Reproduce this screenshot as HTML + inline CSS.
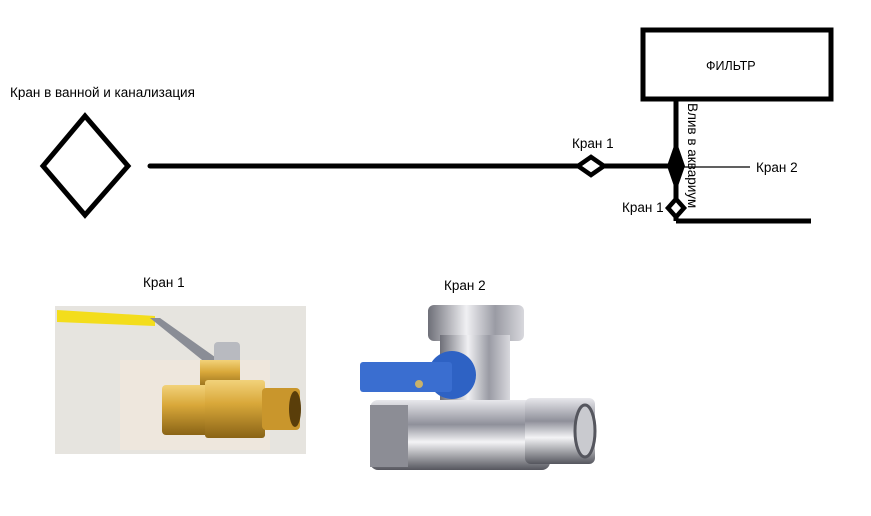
<!DOCTYPE html>
<html><head><meta charset="utf-8"><style>
html,body{margin:0;padding:0;background:#fff;}
body{width:871px;height:516px;overflow:hidden;position:relative;font-family:"Liberation Sans","DejaVu Sans",sans-serif;}
</style></head><body>
<svg width="871" height="516" viewBox="0 0 871 516" xmlns="http://www.w3.org/2000/svg" style="position:absolute;left:0;top:0">
<defs>
<linearGradient id="brass" x1="0" y1="0" x2="0" y2="1">
<stop offset="0" stop-color="#f2d27a"/><stop offset="0.4" stop-color="#d9a83a"/><stop offset="1" stop-color="#8a6416"/></linearGradient>
<linearGradient id="chrome" x1="0" y1="0" x2="0" y2="1">
<stop offset="0" stop-color="#e8e8ec"/><stop offset="0.35" stop-color="#8f909a"/><stop offset="0.6" stop-color="#f4f4f6"/><stop offset="1" stop-color="#55565e"/></linearGradient>
<linearGradient id="chromeV" x1="0" y1="0" x2="1" y2="0">
<stop offset="0" stop-color="#6e6f78"/><stop offset="0.4" stop-color="#f0f0f3"/><stop offset="0.7" stop-color="#9a9ba4"/><stop offset="1" stop-color="#d8d8dd"/></linearGradient>
</defs>
<g font-size="13.5" fill="#000">
<text x="10" y="97">Кран в ванной и канализация</text>
<text x="572" y="148">Кран 1</text>
<text x="756" y="172">Кран 2</text>
<text x="622" y="212">Кран 1</text>
<text x="706" y="70" font-size="12.5">ФИЛЬТР</text>
<text x="0" y="0" transform="translate(688,103) rotate(90)">Влив в аквариум</text>
<text x="143" y="287">Кран 1</text>
<text x="444" y="290">Кран 2</text>
</g>
<rect x="643" y="30" width="188" height="69" fill="none" stroke="#000" stroke-width="5"/>
<polygon points="85,116 128,166 85,215 43,166" fill="none" stroke="#000" stroke-width="5"/>
<line x1="150" y1="166" x2="676" y2="166" stroke="#000" stroke-width="5" stroke-linecap="round"/>
<line x1="676" y1="101" x2="676" y2="221" stroke="#000" stroke-width="5"/>
<line x1="676" y1="221" x2="811" y2="221" stroke="#000" stroke-width="5"/>
<line x1="676" y1="167" x2="750" y2="167" stroke="#000" stroke-width="1.2"/>
<polygon points="591,157 604,166 591,175 578,166" fill="#fff" stroke="#000" stroke-width="4.5"/>
<polygon points="676,140 685,166 676,192 667,166" fill="#000"/>
<polygon points="676,199 684,208 676,217 668,208" fill="#fff" stroke="#000" stroke-width="4.5"/>
<!-- photo 1 -->
<rect x="55" y="306" width="251" height="148" fill="#e6e4df"/>
<rect x="120" y="360" width="150" height="90" fill="#f1e8dc" opacity="0.7"/>
<polygon points="57,310 155,316 155,326 57,322" fill="#f3dd1c"/>
<polygon points="150,318 160,318 222,362 212,368" fill="#8a8d96"/>
<rect x="214" y="342" width="26" height="22" rx="4" fill="#b8bac0"/>
<rect x="200" y="360" width="40" height="30" fill="url(#brass)"/>
<rect x="162" y="385" width="50" height="50" rx="4" fill="url(#brass)"/>
<rect x="205" y="380" width="60" height="58" rx="3" fill="url(#brass)"/>
<rect x="262" y="388" width="38" height="42" rx="4" fill="#c9962c"/>
<ellipse cx="295" cy="409" rx="6" ry="18" fill="#5a3e0a"/>
<!-- photo 2 -->
<rect x="428" y="305" width="96" height="36" rx="6" fill="url(#chromeV)"/>
<rect x="440" y="335" width="70" height="75" fill="url(#chromeV)"/>
<rect x="370" y="400" width="180" height="70" rx="8" fill="url(#chrome)"/>
<rect x="370" y="405" width="38" height="62" fill="#8c8d95"/>
<rect x="525" y="398" width="70" height="66" rx="6" fill="url(#chrome)"/>
<ellipse cx="585" cy="431" rx="10" ry="26" fill="#c9cacf" stroke="#55565e" stroke-width="3"/>
<circle cx="452" cy="375" r="24" fill="#2e62c4"/>
<rect x="360" y="362" width="92" height="30" rx="3" fill="#3a6ed0"/>
<circle cx="419" cy="384" r="4" fill="#c9b26a"/>
</svg>
</body></html>
